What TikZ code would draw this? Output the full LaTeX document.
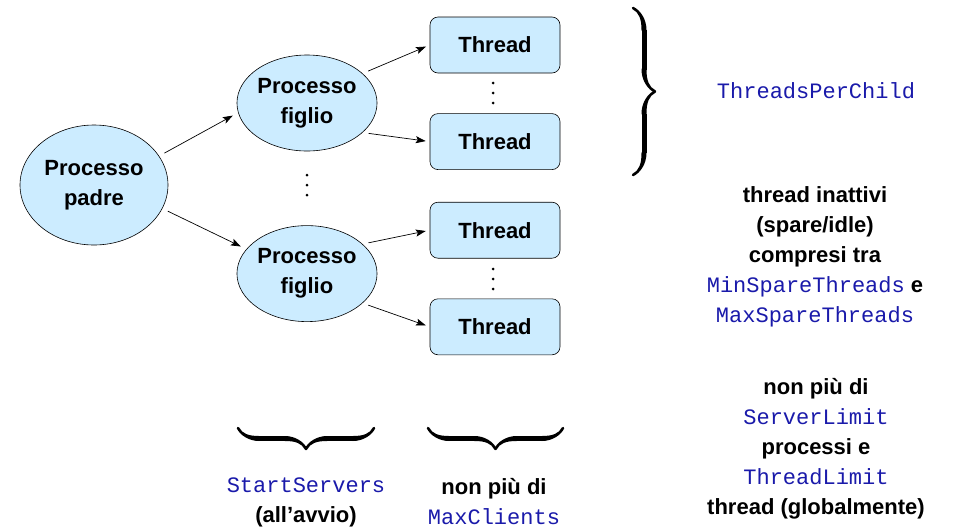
\documentclass[tikz,border=0pt]{standalone}
\usepackage{fontspec}
\setmainfont{Liberation Sans}
\setmonofont{Liberation Mono}
\usetikzlibrary{arrows.meta,positioning,shapes.geometric,decorations.pathreplacing,calligraphy}
\definecolor{procfill}{RGB}{204,236,255}
\definecolor{codeblue}{RGB}{26,26,170}
\newcommand{\cfgname}[1]{{\mdseries\ttfamily\fontsize{22}{30}\selectfont\color{codeblue}#1}}
\tikzset{
    %Define standard arrow tip
    >={Stealth[length=10pt,width=7pt,inset=2pt]},
    %Define style for processes
    procnode/.style={
             ellipse,
             draw=black, line width=0.6pt,
             fill=procfill,
             align=center, inner sep=0pt,
             font=\bfseries\fontsize{22}{30}\selectfont},
    %Define style for threads
    threadnode/.style={
             rectangle, rounded corners=8pt,
             draw=black, line width=0.6pt,
             fill=procfill,
             minimum width=130pt, minimum height=56pt,
             font=\bfseries\fontsize{22}{30}\selectfont},
    % Define style for notes
    notenode/.style={
             align=center, inner sep=0pt,
             font=\bfseries\fontsize{22}{30}\selectfont},
    % Define arrow style
    procarrow/.style={
            ->,
            line width=0.7pt,
            shorten <=6pt, shorten >=6pt},
    % Define brace style
    bracemark/.style={
            decorate,
            decoration={calligraphic brace, amplitude=#1},
            pen colour=black,
            line width=5pt}
}
\begin{document}
\begin{tikzpicture}[x=1pt, y=-1pt]
 \useasboundingbox (0,0) rectangle (955,528);
 \node[procnode, minimum width=148pt, minimum height=120pt] (padre) at (94,185) {Processo\\padre};
 \node[procnode, minimum width=122pt, minimum height=96pt] (fig1) at (307,103) {Processo\\figlio};
 \node[procnode, minimum width=122pt, minimum height=96pt, below=74pt of fig1] (fig2) {Processo\\figlio};
 \node[threadnode] (t1) at (495,45) {Thread};
 \node[threadnode, below=40pt of t1] (t2) {Thread};
 \node[threadnode, below=32pt of t2] (t3) {Thread};
 \node[threadnode, below=40pt of t3] (t4) {Thread};
% vertical dots
 \coordinate (dots1) at (493,93);
 \coordinate (dots2) at (493,279);
 \coordinate (dots3) at (307,185);
 \foreach \d in {dots1,dots2,dots3}
   \foreach \dy in {-10,0,10}
     \fill ([yshift=\dy pt]\d) circle (1.5pt);
% braces and their notes
 \coordinate (bt) at (633,8);
 \coordinate (bb) at (633,175);
 \coordinate (sl) at (238,428);
 \coordinate (sr) at (374,428);
 \coordinate (ml) at (428,428);
 \coordinate (mr) at (563,428);
 \draw[bracemark=22pt] (bt) -- (bb);
 \draw[bracemark=21pt] (sr) -- (sl);
 \draw[bracemark=21pt] (mr) -- (ml);
 \node[notenode] (perchild) at (816,91) {\cfgname{ThreadsPerChild}};
 \node[notenode] (spare) at (815,257) {thread inattivi\\(spare/idle)\\compresi tra\\\cfgname{MinSpareThreads} e\\\cfgname{MaxSpareThreads}};
 \node[notenode] (limit) at (816,449) {non più di\\\cfgname{ServerLimit}\\processi e\\\cfgname{ThreadLimit}\\thread (globalmente)};
 \node[notenode] (start) at (306,502) {\cfgname{StartServers}\\(all’avvio)};
 \node[notenode] (maxcl) at (494,502) {non più di\\\cfgname{MaxClients}};
 \path (padre.24) edge[procarrow] (fig1.188)
       (padre.-19) edge[procarrow] (fig2.158)
       (fig1.28) edge[procarrow, shorten >=4pt] (t1.west)
       (fig1.-28) edge[procarrow, shorten >=4pt] (t2.west)
       (fig2.28) edge[procarrow, shorten >=4pt] (t3.west)
       (fig2.-28) edge[procarrow, shorten >=4pt] (t4.west);
\end{tikzpicture}
\end{document}
